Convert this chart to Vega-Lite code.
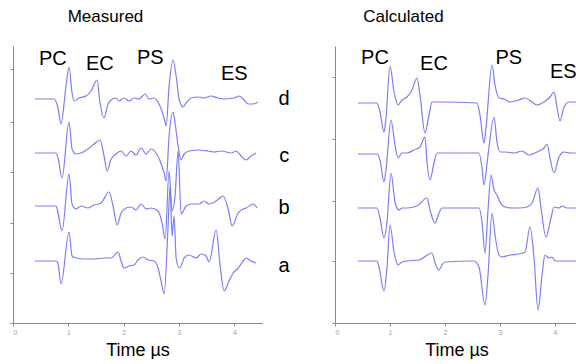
{
  "$schema": "https://vega.github.io/schema/vega-lite/v6.json",
  "padding": {"left": 9, "top": 8, "right": 0, "bottom": 0},
  "spacing": 41,
  "config": {
    "view": {"stroke": null},
    "font": "Liberation Sans",
    "axis": {"grid": false, "domainColor": "#8a8a8a", "tickColor": "#8a8a8a", "tickSize": 3, "labelColor": "#a0a0a0", "labelFontSize": 7, "titleFontWeight": "normal", "titleColor": "#000000", "titleFontSize": 18},
    "title": {"fontWeight": "normal", "fontSize": 17, "color": "#000000"}
  },
  "datasets": {
    "m": [
      {"tr":"d","t":0.398,"v":224},{"tr":"d","t":0.741,"v":224},{"tr":"d","t":0.814,"v":215},{"tr":"d","t":0.868,"v":199},{"tr":"d","t":0.958,"v":237},{"tr":"d","t":1.013,"v":256},{"tr":"d","t":1.067,"v":230},{"tr":"d","t":1.103,"v":222},{"tr":"d","t":1.193,"v":225},{"tr":"d","t":1.320,"v":227},{"tr":"d","t":1.410,"v":232},{"tr":"d","t":1.519,"v":243},{"tr":"d","t":1.573,"v":220},{"tr":"d","t":1.646,"v":205},{"tr":"d","t":1.718,"v":219},{"tr":"d","t":1.772,"v":223},{"tr":"d","t":1.863,"v":225},{"tr":"d","t":1.917,"v":222},{"tr":"d","t":2.007,"v":225},{"tr":"d","t":2.098,"v":222},{"tr":"d","t":2.188,"v":225},{"tr":"d","t":2.278,"v":224},{"tr":"d","t":2.387,"v":229},{"tr":"d","t":2.459,"v":224},{"tr":"d","t":2.550,"v":225},{"tr":"d","t":2.640,"v":219},{"tr":"d","t":2.731,"v":205},{"tr":"d","t":2.767,"v":197},{"tr":"d","t":2.821,"v":237},{"tr":"d","t":2.893,"v":263},{"tr":"d","t":2.948,"v":247},{"tr":"d","t":3.002,"v":224},{"tr":"d","t":3.074,"v":216},{"tr":"d","t":3.128,"v":220},{"tr":"d","t":3.219,"v":225},{"tr":"d","t":3.345,"v":226},{"tr":"d","t":3.454,"v":225},{"tr":"d","t":3.580,"v":227},{"tr":"d","t":3.707,"v":225},{"tr":"d","t":3.816,"v":224},{"tr":"d","t":3.996,"v":225},{"tr":"d","t":4.087,"v":227},{"tr":"d","t":4.159,"v":224},{"tr":"d","t":4.250,"v":219},{"tr":"d","t":4.340,"v":219},{"tr":"d","t":4.430,"v":221},
      {"tr":"c","t":0.398,"v":170},{"tr":"c","t":0.778,"v":170},{"tr":"c","t":0.814,"v":165},{"tr":"c","t":0.886,"v":145},{"tr":"c","t":1.013,"v":201},{"tr":"c","t":1.067,"v":174},{"tr":"c","t":1.139,"v":169},{"tr":"c","t":1.230,"v":170},{"tr":"c","t":1.356,"v":174},{"tr":"c","t":1.465,"v":179},{"tr":"c","t":1.573,"v":183},{"tr":"c","t":1.646,"v":167},{"tr":"c","t":1.700,"v":152},{"tr":"c","t":1.772,"v":164},{"tr":"c","t":1.863,"v":169},{"tr":"c","t":1.953,"v":172},{"tr":"c","t":2.043,"v":167},{"tr":"c","t":2.134,"v":172},{"tr":"c","t":2.224,"v":168},{"tr":"c","t":2.315,"v":175},{"tr":"c","t":2.405,"v":169},{"tr":"c","t":2.495,"v":174},{"tr":"c","t":2.586,"v":170},{"tr":"c","t":2.658,"v":162},{"tr":"c","t":2.731,"v":150},{"tr":"c","t":2.767,"v":142},{"tr":"c","t":2.821,"v":187},{"tr":"c","t":2.893,"v":211},{"tr":"c","t":2.929,"v":200},{"tr":"c","t":2.984,"v":177},{"tr":"c","t":3.038,"v":163},{"tr":"c","t":3.092,"v":169},{"tr":"c","t":3.183,"v":172},{"tr":"c","t":3.345,"v":173},{"tr":"c","t":3.526,"v":172},{"tr":"c","t":3.635,"v":171},{"tr":"c","t":3.761,"v":172},{"tr":"c","t":3.942,"v":170},{"tr":"c","t":4.033,"v":172},{"tr":"c","t":4.123,"v":167},{"tr":"c","t":4.213,"v":163},{"tr":"c","t":4.304,"v":167},{"tr":"c","t":4.394,"v":170},
      {"tr":"b","t":0.398,"v":117},{"tr":"b","t":0.778,"v":117},{"tr":"b","t":0.814,"v":110},{"tr":"b","t":0.886,"v":92},{"tr":"b","t":1.013,"v":149},{"tr":"b","t":1.067,"v":119},{"tr":"b","t":1.139,"v":114},{"tr":"b","t":1.230,"v":117},{"tr":"b","t":1.356,"v":115},{"tr":"b","t":1.465,"v":118},{"tr":"b","t":1.591,"v":120},{"tr":"b","t":1.736,"v":131},{"tr":"b","t":1.808,"v":117},{"tr":"b","t":1.881,"v":98},{"tr":"b","t":1.953,"v":110},{"tr":"b","t":2.043,"v":115},{"tr":"b","t":2.134,"v":116},{"tr":"b","t":2.224,"v":113},{"tr":"b","t":2.315,"v":119},{"tr":"b","t":2.405,"v":114},{"tr":"b","t":2.495,"v":115},{"tr":"b","t":2.622,"v":112},{"tr":"b","t":2.694,"v":100},{"tr":"b","t":2.749,"v":84},{"tr":"b","t":2.821,"v":152},{"tr":"b","t":2.875,"v":112},{"tr":"b","t":2.929,"v":127},{"tr":"b","t":2.984,"v":172},{"tr":"b","t":3.038,"v":109},{"tr":"b","t":3.128,"v":117},{"tr":"b","t":3.219,"v":119},{"tr":"b","t":3.363,"v":119},{"tr":"b","t":3.454,"v":122},{"tr":"b","t":3.544,"v":119},{"tr":"b","t":3.671,"v":122},{"tr":"b","t":3.797,"v":127},{"tr":"b","t":3.888,"v":114},{"tr":"b","t":3.960,"v":97},{"tr":"b","t":4.069,"v":110},{"tr":"b","t":4.159,"v":114},{"tr":"b","t":4.213,"v":115},{"tr":"b","t":4.340,"v":119},{"tr":"b","t":4.412,"v":115},
      {"tr":"a","t":0.398,"v":62},{"tr":"a","t":0.778,"v":62},{"tr":"a","t":0.814,"v":59},{"tr":"a","t":0.868,"v":39},{"tr":"a","t":1.013,"v":91},{"tr":"a","t":1.067,"v":67},{"tr":"a","t":1.139,"v":65},{"tr":"a","t":1.284,"v":64},{"tr":"a","t":1.465,"v":64},{"tr":"a","t":1.646,"v":65},{"tr":"a","t":1.772,"v":65},{"tr":"a","t":1.899,"v":71},{"tr":"a","t":1.953,"v":62},{"tr":"a","t":2.007,"v":55},{"tr":"a","t":2.098,"v":57},{"tr":"a","t":2.188,"v":58},{"tr":"a","t":2.260,"v":63},{"tr":"a","t":2.351,"v":66},{"tr":"a","t":2.441,"v":63},{"tr":"a","t":2.550,"v":62},{"tr":"a","t":2.622,"v":55},{"tr":"a","t":2.676,"v":42},{"tr":"a","t":2.731,"v":29},{"tr":"a","t":2.803,"v":97},{"tr":"a","t":2.839,"v":137},{"tr":"a","t":2.875,"v":87},{"tr":"a","t":2.911,"v":107},{"tr":"a","t":2.948,"v":65},{"tr":"a","t":3.002,"v":55},{"tr":"a","t":3.038,"v":57},{"tr":"a","t":3.092,"v":65},{"tr":"a","t":3.183,"v":68},{"tr":"a","t":3.309,"v":65},{"tr":"a","t":3.400,"v":69},{"tr":"a","t":3.490,"v":67},{"tr":"a","t":3.544,"v":61},{"tr":"a","t":3.671,"v":93},{"tr":"a","t":3.743,"v":57},{"tr":"a","t":3.816,"v":32},{"tr":"a","t":3.888,"v":40},{"tr":"a","t":3.978,"v":50},{"tr":"a","t":4.069,"v":55},{"tr":"a","t":4.159,"v":62},{"tr":"a","t":4.213,"v":65},{"tr":"a","t":4.304,"v":62},{"tr":"a","t":4.394,"v":60}
    ],
    "c": [
      {"tr":"d","t":0.418,"v":220},{"tr":"d","t":0.764,"v":220},{"tr":"d","t":0.818,"v":211},{"tr":"d","t":0.891,"v":191},{"tr":"d","t":0.927,"v":205},{"tr":"d","t":1.000,"v":257},{"tr":"d","t":1.073,"v":231},{"tr":"d","t":1.145,"v":218},{"tr":"d","t":1.218,"v":223},{"tr":"d","t":1.309,"v":226},{"tr":"d","t":1.400,"v":233},{"tr":"d","t":1.491,"v":245},{"tr":"d","t":1.545,"v":228},{"tr":"d","t":1.636,"v":190},{"tr":"d","t":1.709,"v":208},{"tr":"d","t":1.764,"v":221},{"tr":"d","t":1.945,"v":221},{"tr":"d","t":2.582,"v":220},{"tr":"d","t":2.636,"v":208},{"tr":"d","t":2.709,"v":180},{"tr":"d","t":2.745,"v":195},{"tr":"d","t":2.855,"v":258},{"tr":"d","t":2.909,"v":238},{"tr":"d","t":2.982,"v":225},{"tr":"d","t":3.073,"v":224},{"tr":"d","t":3.182,"v":221},{"tr":"d","t":3.345,"v":223},{"tr":"d","t":3.455,"v":225},{"tr":"d","t":3.582,"v":221},{"tr":"d","t":3.673,"v":218},{"tr":"d","t":3.800,"v":221},{"tr":"d","t":3.909,"v":226},{"tr":"d","t":3.982,"v":231},{"tr":"d","t":4.036,"v":216},{"tr":"d","t":4.091,"v":202},{"tr":"d","t":4.164,"v":216},{"tr":"d","t":4.255,"v":221},{"tr":"d","t":4.345,"v":221},{"tr":"d","t":4.418,"v":221},
      {"tr":"c","t":0.418,"v":169},{"tr":"c","t":0.764,"v":169},{"tr":"c","t":0.818,"v":163},{"tr":"c","t":0.891,"v":141},{"tr":"c","t":0.927,"v":153},{"tr":"c","t":1.018,"v":203},{"tr":"c","t":1.091,"v":178},{"tr":"c","t":1.145,"v":165},{"tr":"c","t":1.218,"v":170},{"tr":"c","t":1.309,"v":170},{"tr":"c","t":1.436,"v":173},{"tr":"c","t":1.545,"v":176},{"tr":"c","t":1.636,"v":186},{"tr":"c","t":1.673,"v":161},{"tr":"c","t":1.727,"v":143},{"tr":"c","t":1.800,"v":160},{"tr":"c","t":1.855,"v":170},{"tr":"c","t":1.945,"v":170},{"tr":"c","t":2.618,"v":170},{"tr":"c","t":2.673,"v":155},{"tr":"c","t":2.709,"v":138},{"tr":"c","t":2.782,"v":168},{"tr":"c","t":2.891,"v":206},{"tr":"c","t":2.945,"v":181},{"tr":"c","t":3.000,"v":171},{"tr":"c","t":3.091,"v":171},{"tr":"c","t":3.255,"v":170},{"tr":"c","t":3.400,"v":172},{"tr":"c","t":3.527,"v":168},{"tr":"c","t":3.673,"v":171},{"tr":"c","t":3.800,"v":175},{"tr":"c","t":3.855,"v":179},{"tr":"c","t":3.909,"v":165},{"tr":"c","t":3.982,"v":150},{"tr":"c","t":4.073,"v":166},{"tr":"c","t":4.164,"v":171},{"tr":"c","t":4.273,"v":170},{"tr":"c","t":4.418,"v":170},
      {"tr":"b","t":0.418,"v":115},{"tr":"b","t":0.764,"v":115},{"tr":"b","t":0.818,"v":105},{"tr":"b","t":0.891,"v":85},{"tr":"b","t":0.945,"v":101},{"tr":"b","t":1.018,"v":150},{"tr":"b","t":1.091,"v":121},{"tr":"b","t":1.164,"v":113},{"tr":"b","t":1.218,"v":115},{"tr":"b","t":1.309,"v":115},{"tr":"b","t":1.491,"v":117},{"tr":"b","t":1.673,"v":125},{"tr":"b","t":1.727,"v":113},{"tr":"b","t":1.818,"v":100},{"tr":"b","t":1.891,"v":110},{"tr":"b","t":1.945,"v":115},{"tr":"b","t":2.618,"v":115},{"tr":"b","t":2.673,"v":101},{"tr":"b","t":2.727,"v":70},{"tr":"b","t":2.782,"v":113},{"tr":"b","t":2.836,"v":148},{"tr":"b","t":2.891,"v":133},{"tr":"b","t":2.945,"v":128},{"tr":"b","t":3.000,"v":121},{"tr":"b","t":3.091,"v":116},{"tr":"b","t":3.218,"v":115},{"tr":"b","t":3.345,"v":115},{"tr":"b","t":3.491,"v":116},{"tr":"b","t":3.582,"v":120},{"tr":"b","t":3.691,"v":135},{"tr":"b","t":3.745,"v":115},{"tr":"b","t":3.836,"v":86},{"tr":"b","t":3.927,"v":105},{"tr":"b","t":3.982,"v":116},{"tr":"b","t":4.073,"v":115},{"tr":"b","t":4.127,"v":117},{"tr":"b","t":4.218,"v":115},{"tr":"b","t":4.418,"v":115},
      {"tr":"a","t":0.418,"v":62},{"tr":"a","t":0.764,"v":62},{"tr":"a","t":0.800,"v":56},{"tr":"a","t":0.891,"v":32},{"tr":"a","t":0.945,"v":55},{"tr":"a","t":1.000,"v":98},{"tr":"a","t":1.073,"v":71},{"tr":"a","t":1.145,"v":58},{"tr":"a","t":1.218,"v":61},{"tr":"a","t":1.309,"v":62},{"tr":"a","t":1.527,"v":63},{"tr":"a","t":1.764,"v":70},{"tr":"a","t":1.818,"v":60},{"tr":"a","t":1.891,"v":53},{"tr":"a","t":1.945,"v":58},{"tr":"a","t":2.000,"v":61},{"tr":"a","t":2.527,"v":62},{"tr":"a","t":2.618,"v":56},{"tr":"a","t":2.727,"v":18},{"tr":"a","t":2.782,"v":48},{"tr":"a","t":2.855,"v":110},{"tr":"a","t":2.909,"v":88},{"tr":"a","t":2.982,"v":68},{"tr":"a","t":3.036,"v":66},{"tr":"a","t":3.182,"v":68},{"tr":"a","t":3.345,"v":69},{"tr":"a","t":3.455,"v":71},{"tr":"a","t":3.545,"v":96},{"tr":"a","t":3.618,"v":65},{"tr":"a","t":3.691,"v":13},{"tr":"a","t":3.764,"v":48},{"tr":"a","t":3.818,"v":68},{"tr":"a","t":3.891,"v":65},{"tr":"a","t":3.945,"v":66},{"tr":"a","t":4.000,"v":62},{"tr":"a","t":4.418,"v":62}
    ],
    "lm": [
      {"l":"PC","t":0.72,"v":264},{"l":"EC","t":1.57,"v":259},{"l":"PS","t":2.48,"v":265},{"l":"ES","t":4.0,"v":249},
      {"l":"d","t":4.9,"v":224},{"l":"c","t":4.9,"v":167},{"l":"b","t":4.9,"v":115},{"l":"a","t":4.9,"v":57}
    ],
    "lc": [
      {"l":"PC","t":0.727,"v":265},{"l":"EC","t":1.80,"v":259},{"l":"PS","t":3.16,"v":265},{"l":"ES","t":4.15,"v":251}
    ]
  },
  "hconcat": [
    {
      "width": 249,
      "height": 277,
      "title": {"text": "Measured", "anchor": "middle", "dx": -32, "offset": 20},
      "layer": [
        {
          "data": {"name": "m"},
          "mark": {"type": "line", "color": "#7c7ef6", "strokeWidth": 1.2, "interpolate": "monotone"},
          "encoding": {
            "x": {"field": "t", "type": "quantitative", "scale": {"domain": [0, 4.5], "nice": false, "zero": false}, "axis": {"values": [0, 1, 2, 3, 4], "format": "d", "title": "Time µs", "labelPadding": 2, "titlePadding": 6}},
            "y": {"field": "v", "type": "quantitative", "scale": {"domain": [0, 277], "nice": false}, "axis": {"values": [0, 25, 50, 75, 100, 127, 151, 178, 201, 226, 254, 277], "labels": false, "title": null}},
            "detail": {"field": "tr", "type": "nominal"}
          }
        },
        {
          "data": {"name": "lm"},
          "mark": {"type": "text", "fontSize": 20, "align": "center", "baseline": "middle", "color": "#000000"},
          "encoding": {
            "x": {"field": "t", "type": "quantitative"},
            "y": {"field": "v", "type": "quantitative"},
            "text": {"field": "l", "type": "nominal"}
          }
        }
      ]
    },
    {
      "width": 243,
      "height": 277,
      "title": {"text": "Calculated", "anchor": "middle", "dx": -53, "offset": 20},
      "layer": [
        {
          "data": {"name": "c"},
          "mark": {"type": "line", "color": "#7c7ef6", "strokeWidth": 1.2, "interpolate": "monotone"},
          "encoding": {
            "x": {"field": "t", "type": "quantitative", "scale": {"domain": [0, 4.418], "nice": false, "zero": false}, "axis": {"values": [0, 1, 2, 3, 4], "format": "d", "title": "Time µs", "labelPadding": 2, "titlePadding": 6}},
            "y": {"field": "v", "type": "quantitative", "scale": {"domain": [0, 277], "nice": false}, "axis": {"values": [0, 30, 62, 91, 122, 154, 184, 216, 246, 277], "labels": false, "title": null}},
            "detail": {"field": "tr", "type": "nominal"}
          }
        },
        {
          "data": {"name": "lc"},
          "mark": {"type": "text", "fontSize": 20, "align": "center", "baseline": "middle", "color": "#000000"},
          "encoding": {
            "x": {"field": "t", "type": "quantitative"},
            "y": {"field": "v", "type": "quantitative"},
            "text": {"field": "l", "type": "nominal"}
          }
        }
      ]
    }
  ]
}
